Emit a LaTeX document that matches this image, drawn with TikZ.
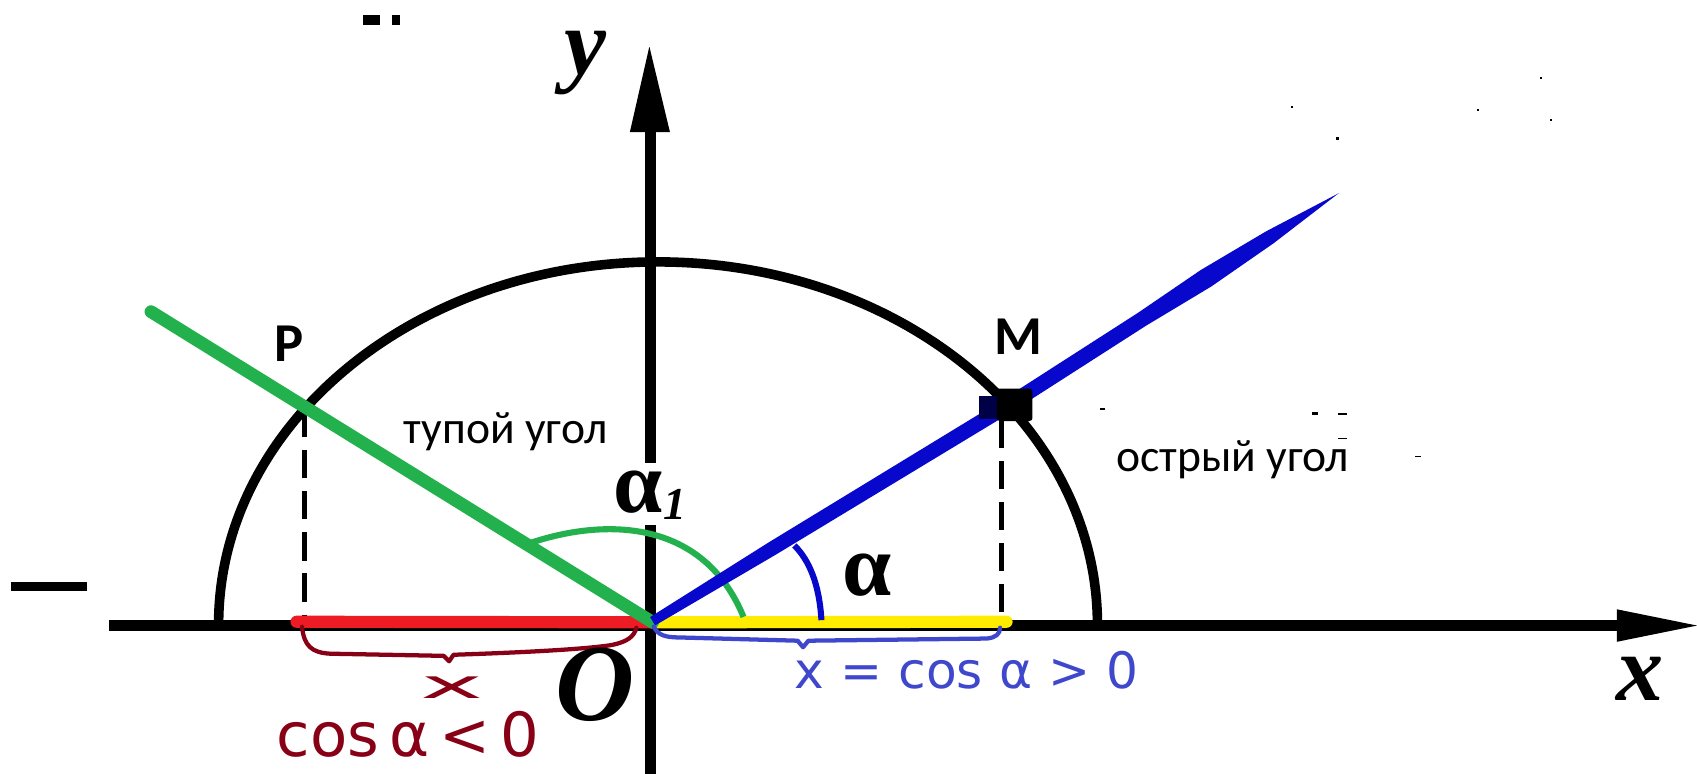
\documentclass[tikz,border=0pt]{standalone}
\usepackage{graphicx}
\usepackage{fontspec}
\setmainfont{Liberation Serif}
\newfontfamily\carl{Carlito}
\newfontfamily\lser{Liberation Serif}
\newfontfamily\djv{DejaVu Sans}
\definecolor{pgreen}{RGB}{34,177,76}
\definecolor{pred}{RGB}{237,28,36}
\definecolor{pyellow}{RGB}{255,236,0}
\definecolor{pmaroon}{RGB}{136,0,21}
\definecolor{pindigo}{RGB}{63,72,204}
\definecolor{pblue}{RGB}{8,8,205}
\definecolor{pnavy}{RGB}{0,0,70}
\begin{document}
\begin{tikzpicture}[x=0.025cm,y=-0.025cm,
  axisline/.style={line width=7pt},
  circline/.style={line width=6.3pt},
  dropline/.style={line width=3.2pt, dash pattern=on 18.5pt off 8.5pt},
  seg/.style={line width=8pt},
  anglearc/.style={line width=4pt},
  handbrace/.style={line width=2.8pt, line join=round, line cap=round},
  greek/.style={font=\lser\bfseries\fontsize{58}{60}\selectfont},
  axislabel/.style={font=\lser\bfseries\itshape\fontsize{62}{64}\selectfont},
  ptlabel/.style={font=\carl\bfseries\fontsize{36}{40}\selectfont},
  ru/.style={font=\carl\fontsize{30}{32}\selectfont}
]
\useasboundingbox (0,0) rectangle (1568,715);
\coordinate (O) at (603,575);
\coordinate (xs) at (101,578);
\coordinate (xe) at (1494,578);
\coordinate (xtip) at (1568,578);
\coordinate (ys) at (601,715);
\coordinate (ye) at (601,118);
\coordinate (ytip) at (600,43);
\coordinate (P) at (281,378);
\coordinate (Pf) at (281,576);
\coordinate (M) at (929,376);
\coordinate (Md) at (925.5,388);
\coordinate (Mf) at (925.5,576);
\coordinate (G) at (139.5,288);
\coordinate (T) at (1237,178.5);
\coordinate (Rs) at (274,574.5);
\coordinate (Ye) at (930,574.5);
% axes
\draw[axisline] (xs) -- (xe);
\fill (1494,563) -- (xtip) -- (1494,593) -- cycle;
\draw[axisline] (ys) -- (ye);
\fill (582,122) -- (ytip) -- (619,122) -- cycle;
% semicircle
\draw[circline] (202,577) arc[start angle=180, end angle=360, x radius=406, y radius=335];
% projections
\draw[dropline] (P) -- (Pf);
\draw[dropline] (Md) -- (Mf);
% segments on x axis
\draw[seg, pred, line cap=round] (Rs) -- (O);
\draw[seg, pyellow, line cap=round] (O) -- (Ye);
% green ray and arc
\draw[pgreen, line width=8.4pt, line cap=round] (G) -- (O);
\draw[anglearc, pgreen] (489,502) .. controls (560,478) and (650,480) .. (687,570);
% blue ray (tapered stroke)
\fill[pblue] (600.7,570.2) -- (710.7,500.9) -- (925.3,370.1) -- (1051.4,289.1) -- (1109.3,249.6) -- (1169.6,213.9) -- (T)
  -- (1176.6,224.9) -- (1119.1,264.8) -- (1059.0,300.9) -- (932.7,381.9) -- (717.5,512.1) -- (605.3,577.9) -- cycle;
\draw[anglearc, pblue] (734,504) .. controls (748,518) and (757,540) .. (759,573);
% point M
\fill[pnavy] (905,366) rectangle (924,387);
\fill[black, rounded corners=2pt] (921,359) rectangle (954,389);
% braces
\draw[handbrace, pmaroon] (279,579) .. controls (281,597) and (288,603) .. (305,604) -- (410,606) -- (415,611) -- (419,605) .. controls (480,603) and (540,600) .. (565,596) .. controls (580,593) and (586,588) .. (588,580);
\draw[handbrace, pindigo] (604,579) .. controls (608,587) and (615,589) .. (628,589) -- (737,592) -- (742,598) -- (747,592) -- (912,590) .. controls (920,589) and (924,586) .. (924,580);
% labels
\node[axislabel, anchor=base] (ylab) at (541,69) {y};
\node[axislabel, anchor=base] (xlab) at (1515,647) {x};
\node[font=\lser\bfseries\itshape\fontsize{72}{74}\selectfont, anchor=base] (Olab) at (550,666) {O};
\node[ptlabel, anchor=base] (Plab) at (267,334) {P};
\node[ptlabel, anchor=base] (Mlab) at (941,328) {M};
\node[ru, anchor=base west, inner sep=0pt] (obt) at (373,409.6) {тупой угол};
\node[ru, anchor=base west, inner sep=0pt] (acu) at (1031,436) {острый угол};
\node[greek, anchor=base west, inner sep=0pt, fill=white, text height=33pt, text depth=8pt] (a1) at (567,474) {α\raisebox{-4pt}{\fontsize{30}{30}\selectfont\itshape 1}};
\node[greek, anchor=base] (a) at (801,550) {α};
\node[font=\djv\fontsize{33}{36}\selectfont, text=pindigo, anchor=base, inner sep=0pt] (cpos) at (893,636) {x = cos α > 0};
\node[font=\djv\fontsize{40}{42}\selectfont, text=pmaroon, anchor=base, inner sep=0pt] (cneg) at (377,699) {cos\,α\,<\,0};
\node[font=\djv\fontsize{26}{28}\selectfont, text=pmaroon, anchor=base, inner sep=0pt] (xneg) at (418,645) {\scalebox{2.7}[1]{x}};
% stray marks
\fill (10,538) rectangle (80,546);
\fill (335,14) rectangle (351,23);
\fill (362,14) rectangle (370,23);
\fill (1234.5,126.5) rectangle (1237.5,129.5);
\fill (1193,98) rectangle (1195,100);
\fill (1365,101) rectangle (1367,103);
\fill (1423,71) rectangle (1425,73);
\fill (1432,110) rectangle (1434,112);
\fill (1016,377) rectangle (1021,378.5);
\fill (1212,381) rectangle (1218,383);
\fill (1236,382) rectangle (1245,383.2);
\fill (1236,404.5) rectangle (1245,405.7);
\fill (1307,421.5) rectangle (1313,422.7);
\end{tikzpicture}
\end{document}
